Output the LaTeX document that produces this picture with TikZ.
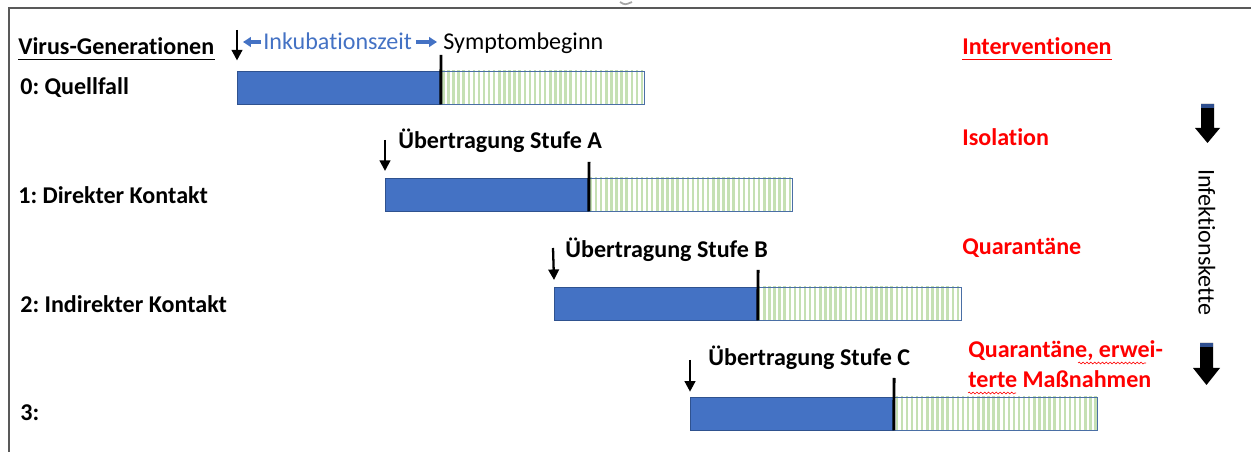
\documentclass[tikz,border=0pt]{standalone}
\usepackage{fontspec}
\setmainfont{Carlito}[Ligatures={NoCommon}]
\frenchspacing
\usetikzlibrary{arrows.meta,patterns.meta,decorations.pathmorphing,calc}
\definecolor{barblue}{HTML}{4472C4}
\definecolor{barborder}{HTML}{2F528F}
\definecolor{stripegreen}{HTML}{C5E0B4}
\definecolor{greenborder}{HTML}{4A6FA5}
\definecolor{txtblue}{HTML}{4472C4}
\definecolor{frame}{HTML}{595959}
\definecolor{navyarrow}{HTML}{2F4F8F}
\tikzset{
  lbl/.style={inner sep=0pt, anchor=base west, font=\fontsize{13.7pt}{16pt}\selectfont},
  blbl/.style={lbl, font=\fontsize{13.7pt}{16pt}\selectfont\bfseries},
  rlbl/.style={blbl, text=red},
  bluebar/.style={draw=barborder, line width=0.5pt, fill=barblue, minimum width=4.08cm, minimum height=0.67cm, inner sep=0pt, outer sep=0pt, anchor=north west},
  greenbar/.style={draw=greenborder, line width=0.5pt, pattern={Lines[angle=90,distance=2.9pt,line width=1.4pt]}, pattern color=stripegreen, minimum width=4.08cm, minimum height=0.67cm, inner sep=0pt, outer sep=0pt, anchor=north west},
  symline/.style={line width=1.7pt, black},
  downarr/.style={line width=1.3pt, -{Triangle[length=6pt,width=6pt]}},
  incarr/.style={line width=1.8pt, txtblue, -{Triangle[length=4.5pt,width=5.5pt]}},
  squiggle/.style={red, line width=0.35pt, decorate, decoration={snake, amplitude=0.5pt, segment length=2.2pt}}
}
\begin{document}
\begin{tikzpicture}[x=0.02cm, y=-0.02cm]
\useasboundingbox (0,0) rectangle (1251,452);
% frame
\draw[frame, line width=1.2pt] (9,452) -- (9,8) -- (1251,8);
\draw[gray!70, line width=1pt] (620,2) .. controls (625,5) .. (632,2);

% left labels
\node[blbl] (vg) at (18,55) {Virus-Generationen};
\draw[line width=0.9pt] ([yshift=-2.5pt]vg.base west) -- ([yshift=-2.5pt]vg.base east);
\node[blbl] (l0) at (20,95) {0: Quellfall};
\node[blbl] (l1) at (18,204) {1: Direkter Kontakt};
\node[blbl] (l2) at (20,313) {2: Indirekter Kontakt};
\node[blbl] (l3) at (20,420) {3:};

% header
\node[lbl, text=txtblue] (inc) at (263,50) {Inkubationszeit};
\coordinate (incL) at (243,42);
\coordinate (incR) at (437,42);
\draw[incarr] ([xshift=-1pt]inc.west |- incL) -- (incL);
\draw[incarr] ([xshift=2pt]inc.east |- incR) -- (incR);
\node[lbl] (sym) at (443,50) {Symptombeginn};

% row 0
\node[bluebar] (b0) at (237,71) {};
\node[greenbar] (g0) at (b0.north east) {};
\coordinate (a0) at (237,30);
\draw[downarr] (a0) -- ([yshift=6pt]b0.north west);
\coordinate (s0) at (441,55);
\draw[symline] (s0) -- (b0.south east);

% row 1
\node[blbl] (t1) at (398,149) {Übertragung Stufe A};
\node[bluebar] (b1) at (385,178) {};
\node[greenbar] (g1) at (b1.north east) {};
\coordinate (a1) at (385,140);
\draw[downarr] (a1) -- ([yshift=4pt]b1.north west);
\coordinate (s1) at (589,162);
\draw[symline] (s1) -- (b1.south east);

% row 2
\node[blbl] (t2) at (565,258) {Übertragung Stufe B};
\node[bluebar] (b2) at (554,287) {};
\node[greenbar] (g2) at (b2.north east) {};
\coordinate (a2) at (553,248);
\draw[downarr] (a2) -- ([yshift=4pt]b2.north west);
\coordinate (s2) at (758,270);
\draw[symline] (s2) -- (b2.south east);

% row 3
\node[blbl] (t3) at (708,366) {Übertragung Stufe C};
\node[bluebar] (b3) at (690,397) {};
\node[greenbar] (g3) at (b3.north east) {};
\coordinate (a3) at (690,360);
\draw[downarr] (a3) -- ([yshift=3pt]b3.north west);
\coordinate (s3) at (894,378);
\draw[symline] (s3) -- (b3.south east);

% interventions
\node[rlbl] (iv) at (962,55) {Interventionen};
\draw[red, line width=0.9pt] ([yshift=-2.5pt]iv.base west) -- ([yshift=-2.5pt]iv.base east);
\node[rlbl] (iso) at (962,146) {Isolation};
\node[rlbl] (qu) at (962,255) {Quarantäne};
\node[rlbl] (qe1) at (968,358) {Quarantäne, erwei-};
\node[rlbl] (qe2) at (968,388) {terte Maßnahmen};
\draw[squiggle] (1078,363) -- (1146,363);
\draw[squiggle] (968,393) -- (1016,393);

% infection chain
\node[inner sep=0pt, rotate=-90, font=\fontsize{13.7pt}{16pt}\selectfont] (ik) at (1207,242) {Infektionskette};
\fill[black] (1201,104) -- (1214,104) -- (1214,128) -- (1220,128) -- (1207.5,143) -- (1195,128) -- (1201,128) -- cycle;
\fill[navyarrow] (1201,104) rectangle (1214,108);
\fill[black] (1200,343) -- (1213,343) -- (1213,368) -- (1220,368) -- (1206.5,385) -- (1193,368) -- (1200,368) -- cycle;
\fill[navyarrow] (1200,343) rectangle (1213,347);
\end{tikzpicture}
\end{document}
